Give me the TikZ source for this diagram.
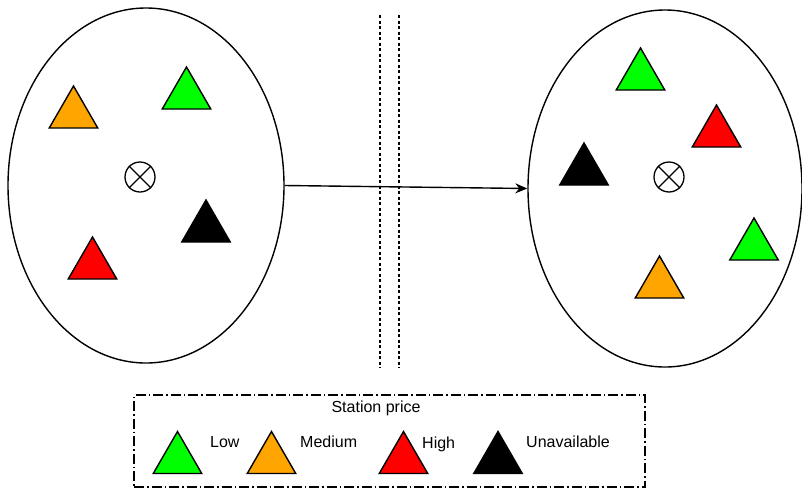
\documentclass[tikz,border=0pt]{standalone}
\usepackage{fontspec}
\setmainfont{Liberation Sans}
\usetikzlibrary{shapes.geometric,arrows.meta}
\definecolor{lowc}{HTML}{00FF00}
\definecolor{medc}{HTML}{FFA500}
\definecolor{highc}{HTML}{FF0000}
\tikzset{
  region/.style={draw, line width=1.4pt, ellipse, inner sep=0pt},
  tri/.style={draw, line width=1.4pt, regular polygon, regular polygon sides=3, minimum size=56pt, inner sep=0pt},
  trilow/.style={tri, fill=lowc},
  trimed/.style={tri, fill=medc},
  trihigh/.style={tri, fill=highc},
  trinone/.style={tri, fill=black},
  hub/.style={draw, line width=1.3pt, circle, minimum size=30pt, inner sep=0pt},
  sepline/.style={line width=1.4pt, dash pattern=on 3pt off 2.5pt},
  legendbox/.style={draw, line width=1.4pt, dash pattern=on 10pt off 3pt on 1.5pt off 3pt},
  lbl/.style={font=\fontsize{16}{19}\selectfont, inner sep=0pt},
  link/.style={line width=1.4pt, -{Stealth[length=12pt,width=10pt]}}
}
\begin{document}
\begin{tikzpicture}[x=1pt,y=-1pt]
\useasboundingbox (0,0) rectangle (802,490);
% regions
\node[region, minimum width=276pt, minimum height=355pt] (L) at (146,185.5) {};
\node[region, minimum width=274pt, minimum height=357pt] (R) at (665,188.5) {};
% left triangles (centroid = base - 14)
\node[trimed] (l1) at (73.5,114) {};
\node[trilow] (l2) at (186.5,95) {};
\node[trinone] (l3) at (206,228) {};
\node[trihigh] (l4) at (92.5,265) {};
\node[hub] (lc) at (140,177) {};
\draw[line width=1.3pt] (lc.north east) -- (lc.south west) (lc.north west) -- (lc.south east);
% right triangles
\node[trilow] (r1) at (640.5,76) {};
\node[trihigh] (r2) at (716.5,133) {};
\node[trinone] (r3) at (584,171) {};
\node[trilow] (r4) at (754,246) {};
\node[trimed] (r5) at (659.5,284) {};
\node[hub] (rc) at (669,177) {};
\draw[line width=1.3pt] (rc.north east) -- (rc.south west) (rc.north west) -- (rc.south east);
% separators
\coordinate (s1t) at (380,15);
\coordinate (s1b) at (380,368);
\coordinate (s2t) at (399,15);
\coordinate (s2b) at (399,368);
\draw[sepline] (s1t) -- (s1b);
\draw[sepline] (s2t) -- (s2b);
% arrow
\draw[link] (L.east) -- (R.west);
% legend
\node[legendbox, minimum width=511pt, minimum height=92pt, inner sep=0pt] (leg) at (389.5,441) {};
\node[lbl] (title) at (376,408) {Station price};
\node[trilow] (g1) at (177.5,459.5) {};
\node[trimed] (g2) at (271.5,459.5) {};
\node[trihigh] (g3) at (403.5,459.5) {};
\node[trinone] (g4) at (498,459.5) {};
\node[lbl, anchor=west] (t1) at (210,442) {Low};
\node[lbl, anchor=west] (t2) at (300,442) {Medium};
\node[lbl, anchor=west] (t3) at (422,444) {High};
\node[lbl, anchor=west] (t4) at (526,442) {Unavailable};
\end{tikzpicture}
\end{document}
